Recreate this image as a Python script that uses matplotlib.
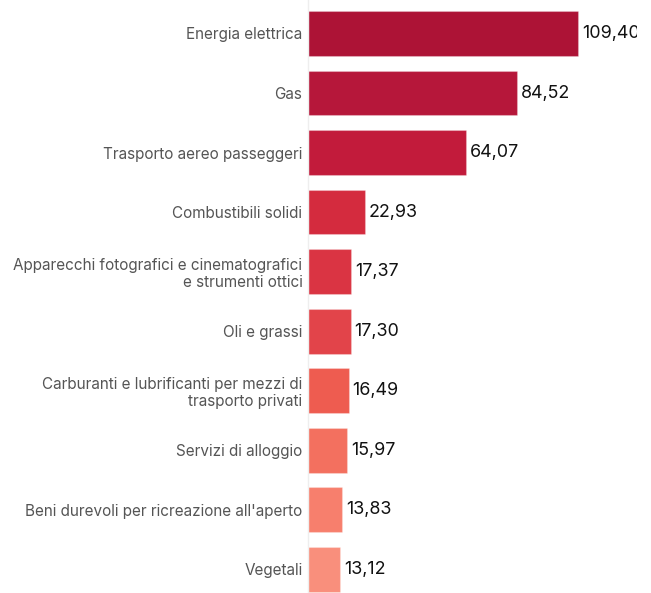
import matplotlib
matplotlib.use("Agg")
import matplotlib.pyplot as plt

categories = [
    "Energia elettrica",
    "Gas",
    "Trasporto aereo passeggeri",
    "Combustibili solidi",
    "Apparecchi fotografici e cinematografici\ne strumenti ottici",
    "Oli e grassi",
    "Carburanti e lubrificanti per mezzi di\ntrasporto privati",
    "Servizi di alloggio",
    "Beni durevoli per ricreazione all'aperto",
    "Vegetali",
]
values = [109.40, 84.52, 64.07, 22.93, 17.37, 17.30, 16.49, 15.97, 13.83, 13.12]
colors = ["#AD1336", "#B6173A", "#C21B3B", "#D42B3E", "#DA3443",
          "#E2444A", "#EE5C50", "#F3705F", "#F77F6D", "#F98F7C"]

plt.rcParams["font.family"] = ["Inter", "DejaVu Sans"]

fig = plt.figure(figsize=(6.51, 5.93), dpi=100)
# plot area ends before the right edge; value labels are clipped to it
ax = fig.add_axes([308 / 651, 0, 329 / 651, 1])

pos = list(range(len(categories)))
ax.barh(pos, values, height=0.756, color=colors,
        edgecolor=(1, 1, 1, 0.25), linewidth=0.8)

ax.set_xlim(0, 133.3)
ax.set_ylim(9.403, -0.563)

for y, v in zip(pos, values):
    ax.text(v + 1.6, y, f"{v:.2f}".replace(".", ","), va="center", ha="left",
            fontsize=12.9, color="#111111", clip_on=True)

ax.set_yticks(pos)
ax.set_yticklabels(categories, fontsize=11.0, color="#555555",
                   linespacing=1.15, ha="right")
ax.tick_params(axis="y", length=0, pad=4)
ax.set_xticks([])

for s in ["top", "right", "bottom"]:
    ax.spines[s].set_visible(False)
ax.spines["left"].set_color("#eeeeee")
ax.spines["left"].set_linewidth(1)

fig.savefig("out.png", dpi=100)
